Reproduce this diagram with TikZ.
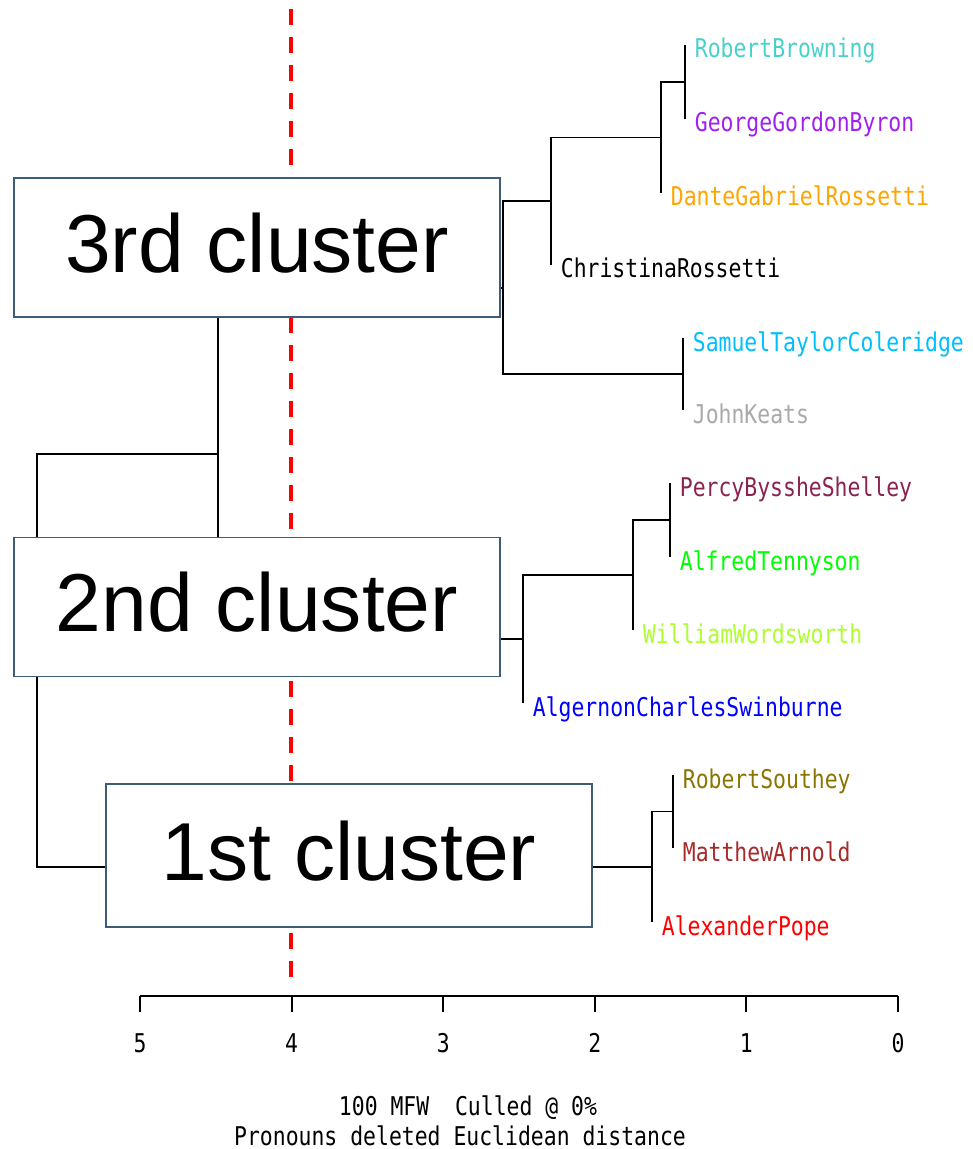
\documentclass[tikz,border=0pt]{standalone}
\usepackage{fontspec}
\setmainfont{Liberation Sans}
\newfontfamily\leaffont[FakeStretch=0.83]{DejaVu Sans Mono}
\usepackage{tikz}
\usetikzlibrary{calc}
\definecolor{stylobox}{RGB}{62, 92, 118}
\definecolor{styloturquoise}{RGB}{72, 209, 204}
\definecolor{stylopurple}{RGB}{160, 32, 240}
\definecolor{styloorange}{RGB}{255, 165, 0}
\definecolor{styloskyblue}{RGB}{0, 191, 255}
\definecolor{stylogray}{RGB}{169, 169, 169}
\definecolor{stylomaroon}{RGB}{139, 34, 82}
\definecolor{stylogreen}{RGB}{0, 255, 0}
\definecolor{styloyellowgreen}{RGB}{173, 255, 47}
\definecolor{styloblue}{RGB}{0, 0, 255}
\definecolor{stylogold}{RGB}{139, 117, 0}
\definecolor{stylobrown}{RGB}{165, 42, 42}
\definecolor{stylored}{RGB}{255, 0, 0}

\begin{document}
\begin{tikzpicture}[
    x=0.02cm, y=-0.02cm,
    every node/.style={font=\leaffont\fontsize{14.7pt}{17pt}\selectfont},
    cluster/.style={rectangle, draw=stylobox, line width=1pt, fill=white, minimum width=9.72cm, minimum height=2.78cm, inner sep=0pt, text depth=0.2cm, font=\rmfamily\fontsize{46.8pt}{50pt}\selectfont},
    leaf/.style={anchor=west, inner xsep=0.19cm, inner ysep=0pt, text height=0.52cm, text depth=0pt},
    branch/.style={line width=1.1pt},
    axisline/.style={line width=1.2pt},
    cutline/.style={stylored, line width=2.3pt, dash pattern=on 0.32cm off 0.24cm}
]
\useasboundingbox (0,0) rectangle (973,1149);

\coordinate (cuttop) at (291,9);
\coordinate (cutbottom) at (291,977);
\draw[cutline] (cuttop) -- (cutbottom);

\node[cluster] (third) at (257,247.5) {3rd cluster};
\node[cluster] (second) at (257,607) {2nd cluster};
\node[cluster, minimum height=2.86cm] (first) at (349,855.5) {1st cluster};

\node[leaf, text=styloturquoise] (browning) at (685,45) {RobertBrowning};
\node[leaf, text=stylopurple] (byron) at (685,119) {GeorgeGordonByron};
\node[leaf, text=styloorange] (dante) at (661,193) {DanteGabrielRossetti};
\node[leaf] (christina) at (551,265) {ChristinaRossetti};
\node[leaf, text=styloskyblue] (coleridge) at (683,338) {SamuelTaylorColeridge};
\node[leaf, text=stylogray] (keats) at (683,410) {JohnKeats};
\node[leaf, text=stylomaroon] (shelley) at (670,483) {PercyByssheShelley};
\node[leaf, text=stylogreen] (tennyson) at (670,557) {AlfredTennyson};
\node[leaf, text=styloyellowgreen] (wordsworth) at (633,630) {WilliamWordsworth};
\node[leaf, text=styloblue] (swinburne) at (523,703) {AlgernonCharlesSwinburne};
\node[leaf, text=stylogold] (southey) at (673,775) {RobertSouthey};
\node[leaf, text=stylobrown] (arnold) at (673,848) {MatthewArnold};
\node[leaf, text=stylored] (pope) at (652,922) {AlexanderPope};

% 3rd cluster
\draw[branch] (browning.west) -- (byron.west);
\coordinate (m1) at ($(browning.west)!.5!(byron.west)$);
\draw[branch] (m1) -- (m1 -| dante.west) -- (dante.west);
\coordinate (m2) at ($(m1 -| dante.west)!.5!(dante.west)$);
\draw[branch] (m2) -- (m2 -| christina.west) -- (christina.west);
\coordinate (m3) at ($(m2 -| christina.west)!.5!(christina.west)$);
\draw[branch] (coleridge.west) -- (keats.west);
\coordinate (m4) at ($(coleridge.west)!.5!(keats.west)$);
\coordinate (h5) at (503,0);
\draw[branch] (m3) -- (m3 -| h5) -- (m4 -| h5) -- (m4);
\coordinate (m5) at ($(m3 -| h5)!.5!(m4 -| h5)$);
\draw[branch] (m5) -- (m5 -| third.east);

% 2nd cluster
\draw[branch] (shelley.west) -- (tennyson.west);
\coordinate (m6) at ($(shelley.west)!.5!(tennyson.west)$);
\draw[branch] (m6) -- (m6 -| wordsworth.west) -- (wordsworth.west);
\coordinate (m7) at ($(m6 -| wordsworth.west)!.5!(wordsworth.west)$);
\draw[branch] (m7) -- (m7 -| swinburne.west) -- (swinburne.west);
\coordinate (m8) at ($(m7 -| swinburne.west)!.5!(swinburne.west)$);
\draw[branch] (m8) -- (m8 -| second.east);

% 1st cluster
\draw[branch] (southey.west) -- (arnold.west);
\coordinate (m9) at ($(southey.west)!.5!(arnold.west)$);
\draw[branch] (m9) -- (m9 -| pope.west) -- (pope.west);
\coordinate (m10) at ($(m9 -| pope.west)!.5!(pope.west)$);
\draw[branch] (m10) -- (m10 -| first.east);

\coordinate (m11) at (218,454);
\coordinate (root) at (37,454);
\draw[branch] (third.south -| m11) -- (second.north -| m11);
\draw[branch] (m11) -- (root) -- (root |- second.north);
\draw[branch] (root |- second.south) -- (root |- m10) -- (first.west |- m10);

\coordinate (ax5) at (140,996);
\coordinate (ax0) at (898,996);
\draw[axisline] (ax5) -- (ax0);
\foreach \d in {0,...,5} {
    \coordinate (tick\d) at ({898-151.6*\d},996);
    \draw[axisline] (tick\d) -- ++(0,16);
    \node (lab\d) at ({898-151.6*\d},1043) {\d};
}

\node[anchor=base] (title) at (468,1115) {100 MFW\ \ Culled @ 0\%};
\node[anchor=base] (subtitle) at (460,1145) {Pronouns deleted Euclidean distance};

\end{tikzpicture}
\end{document}
